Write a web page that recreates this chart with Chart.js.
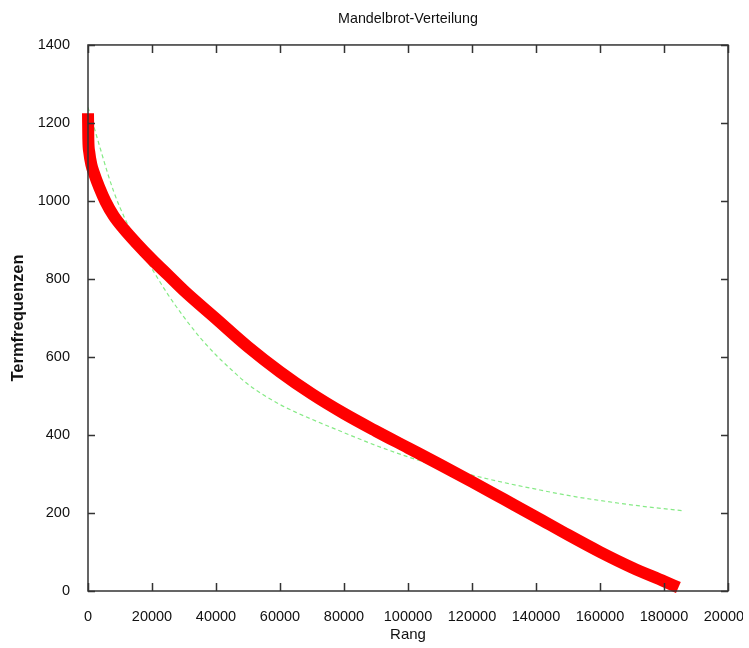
<!DOCTYPE html>
<html>
<head>
<meta charset="utf-8">
<title>Mandelbrot-Verteilung</title>
<script src="https://cdn.jsdelivr.net/npm/chart.js@4.4.1/dist/chart.umd.min.js"></script>
<style>
  html, body { margin: 0; padding: 0; background: #fff; overflow: hidden; }
  #clip { width: 743px; height: 648px; overflow: hidden; }
</style>
</head>
<body>
<div id="clip"><canvas id="mandelbrotChart" width="760" height="648"></canvas></div>
<script>
// Rang / Termfrequenz (gemessen)
const rangData = [0, 100, 400, 1000, 2000, 3500, 5500, 8000, 11000, 15000, 20000, 25000, 30000,
  40000, 50000, 60000, 70000, 80000, 90000, 100000, 110000, 120000, 130000, 140000,
  150000, 160000, 170000, 180000, 184500];
const freqData = [1225, 1160, 1125, 1095, 1068, 1035, 998, 962, 930, 893, 850, 810, 770,
  698, 626, 562, 505, 455, 410, 367, 324, 280, 235, 190,
  144, 100, 60, 25, 9];

// Mandelbrot-Anpassung
const rangFit = [0, 1500, 4000, 6250, 8000, 10000, 13000, 16000, 20000, 25000, 30000, 35000,
  40000, 45000, 50000, 55000, 60000, 65000, 70000, 80000, 90000, 100000, 110000, 120000,
  130000, 140000, 150000, 160000, 172500, 185500];
const freqFit = [1240, 1200, 1130, 1068, 1025, 983, 930, 882, 826, 760, 702, 650,
  605, 566, 530, 502, 478, 458, 440, 406, 373, 344, 318, 297,
  278, 261, 245, 232, 218, 206];

const xTickValues = [0, 20000, 40000, 60000, 80000, 100000, 120000, 140000, 160000, 180000, 200000];
const yTickValues = [0, 200, 400, 600, 800, 1000, 1200, 1400];

const fontFamily = "'Liberation Sans', Arial, sans-serif";

function toPoints(xs, ys) {
  return xs.map((x, i) => ({ x: x, y: ys[i] }));
}

// gnuplot-artiger Rahmen mit nach innen zeigenden Ticks
const boxPlugin = {
  id: 'gnuplotBox',
  afterDraw(chart) {
    const { ctx, chartArea: a, scales } = chart;
    ctx.save();
    ctx.strokeStyle = '#333';
    ctx.lineWidth = 1.5;
    ctx.strokeRect(a.left, a.top, a.right - a.left, a.bottom - a.top);
    ctx.beginPath();
    scales.x.ticks.forEach(t => {
      const px = Math.round(scales.x.getPixelForValue(t.value)) + 0.5;
      ctx.moveTo(px, a.bottom); ctx.lineTo(px, a.bottom - 8);
      ctx.moveTo(px, a.top); ctx.lineTo(px, a.top + 8);
    });
    scales.y.ticks.forEach(t => {
      const py = Math.round(scales.y.getPixelForValue(t.value)) + 0.5;
      ctx.moveTo(a.left, py); ctx.lineTo(a.left + 7, py);
      ctx.moveTo(a.right, py); ctx.lineTo(a.right - 7, py);
    });
    ctx.stroke();
    ctx.restore();
  }
};

const ctx = document.getElementById('mandelbrotChart').getContext('2d');
const config = {
  type: 'line',
  data: {
    datasets: [{
      label: 'Termfrequenzen',
      data: toPoints(rangData, freqData),
      borderColor: '#ff0000',
      borderWidth: 12,
      pointRadius: 0,
      cubicInterpolationMode: 'monotone',
      clip: false
    }, {
      label: 'Mandelbrot',
      data: toPoints(rangFit, freqFit),
      borderColor: '#86ea86',
      borderWidth: 1.2,
      borderDash: [4, 3],
      pointRadius: 0,
      cubicInterpolationMode: 'monotone'
    }]
  },
  options: {
    responsive: false,
    animation: false,
    layout: { padding: { left: 0, right: 32, top: 0, bottom: 0 } },
    plugins: {
      legend: { display: false },
      tooltip: { enabled: false },
      title: {
        display: true,
        text: 'Mandelbrot-Verteilung',
        fullSize: false,
        color: '#111',
        font: { family: fontFamily, size: 14.3, weight: 'normal' },
        padding: { top: 10, bottom: 17.8 }
      }
    },
    scales: {
      x: {
        type: 'linear',
        min: 0,
        max: 200000,
        grid: { display: false },
        border: { display: false },
        afterBuildTicks: s => { s.ticks = xTickValues.map(v => ({ value: v })); },
        afterFit: s => { s.height = 57; s.paddingLeft = 0; s.paddingRight = 0; },
        ticks: {
          color: '#111',
          padding: 9,
          maxRotation: 0,
          autoSkip: false,
          font: { family: fontFamily, size: 14.5 },
          callback: v => String(v)
        },
        title: {
          display: true,
          text: 'Rang',
          color: '#111',
          font: { family: fontFamily, size: 15 },
          padding: { top: 0, bottom: 4 }
        }
      },
      y: {
        min: 0,
        max: 1400,
        grid: { display: false },
        border: { display: false },
        afterBuildTicks: s => { s.ticks = yTickValues.map(v => ({ value: v })); },
        afterFit: s => { s.width = 88; s.paddingTop = 0; s.paddingBottom = 0; },
        ticks: {
          color: '#111',
          padding: 10,
          autoSkip: false,
          font: { family: fontFamily, size: 14.5 },
          callback: v => String(v)
        },
        title: {
          display: true,
          text: 'Termfrequenzen',
          color: '#111',
          font: { family: fontFamily, size: 16.5, weight: 'bold' },
          padding: { top: 9, bottom: 0 }
        }
      }
    }
  },
  plugins: [boxPlugin]
};

const mandelbrotChart = new Chart(ctx, config);
</script>
</body>
</html>
